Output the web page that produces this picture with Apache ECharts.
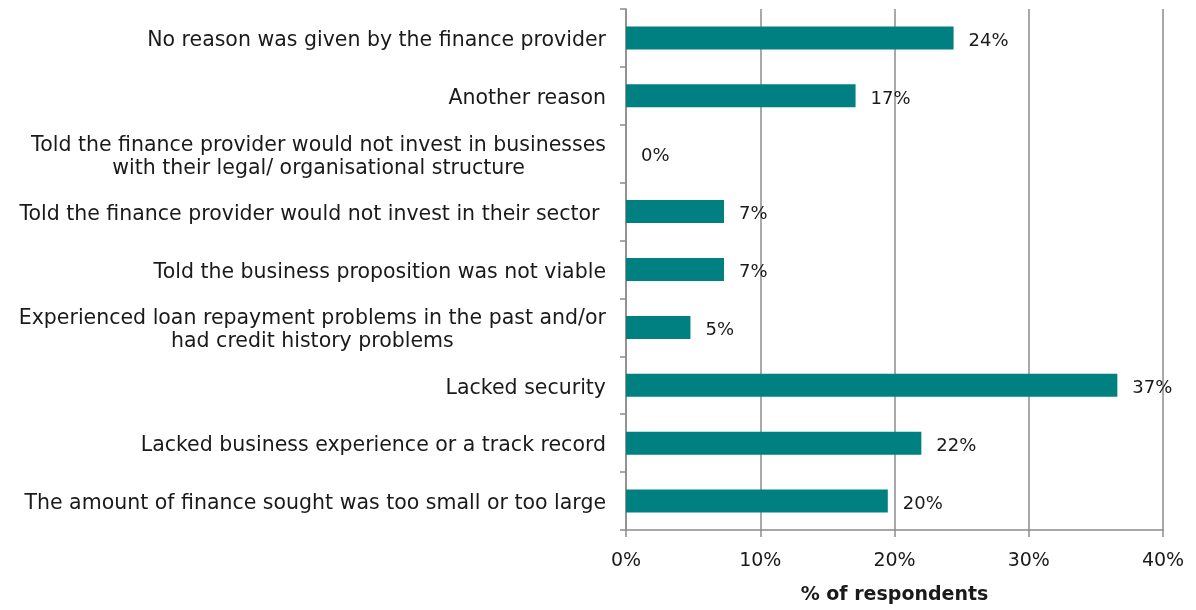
<!DOCTYPE html>
<html>
<head>
<meta charset="utf-8">
<script src="https://cdn.jsdelivr.net/npm/echarts@6/dist/echarts.min.js"></script>
<style>html,body{margin:0;padding:0;background:#fff}#c{width:1196px;height:610px}</style>
</head>
<body>
<div id="c"></div>
<script>
const categories = [
  "The amount of finance sought was too small or too large",
  "Lacked business experience or a track record",
  "Lacked security",
  "Experienced loan repayment problems in the past and/or\nhad credit history problems",
  "Told the business proposition was not viable",
  "Told the finance provider would not invest in their sector ",
  "Told the finance provider would not invest in businesses\nwith their legal/ organisational structure",
  "Another reason",
  "No reason was given by the finance provider"
];
const values = [19.5, 22.0, 36.6, 4.8, 7.3, 7.3, 0, 17.1, 24.4];
const xTicks = [0, 10, 20, 30, 40];
const xAxisName = "% of respondents";

const FONT = "DejaVu Sans";
const FS = 20.5;
const chart = echarts.init(document.getElementById('c'));
chart.setOption({
  animation: false,
  textStyle: { fontFamily: FONT },
  grid: { left: 626, right: 33, top: 9, bottom: 75, containLabel: false },
  xAxis: {
    type: 'value', min: xTicks[0], max: xTicks[xTicks.length - 1], interval: 10,
    axisLine: { show: true, lineStyle: { color: '#8c8c8c', width: 1.5 } },
    axisTick: { show: true, length: 7, lineStyle: { color: '#8c8c8c', width: 1.5 } },
    splitLine: { show: true, lineStyle: { color: '#8c8c8c', width: 1.5 } },
    axisLabel: { formatter: '{value}%', color: '#1a1a1a', fontSize: 19, margin: 22, fontFamily: FONT },
    name: xAxisName, nameLocation: 'middle', nameGap: 56,
    nameTextStyle: { fontWeight: 'bold', fontSize: 19, color: '#1a1a1a', fontFamily: FONT }
  },
  yAxis: {
    type: 'category', data: categories,
    axisLine: { show: true, lineStyle: { color: '#8c8c8c', width: 1.5 } },
    axisTick: { show: true, length: 6, lineStyle: { color: '#8c8c8c', width: 1.5 } },
    axisLabel: {
      color: '#1a1a1a', fontSize: FS, margin: 20, fontFamily: FONT, lineHeight: 23,
      formatter: v => v.split('\n').map(s => '{a|' + s + '}').join('\n'),
      rich: { a: { align: 'center', fontSize: FS, lineHeight: 23, padding: [6, 0, 0, 0], color: '#1a1a1a', fontFamily: FONT } }
    }
  },
  series: [{
    type: 'bar', data: values, barWidth: 23,
    itemStyle: { color: '#008080' },
    label: {
      show: true, position: 'right', distance: 15, offset: [0, 3],
      formatter: p => Math.round(p.value) + '%',
      color: '#1a1a1a', fontSize: 18, fontFamily: FONT
    }
  }]
});
</script>
</body>
</html>
